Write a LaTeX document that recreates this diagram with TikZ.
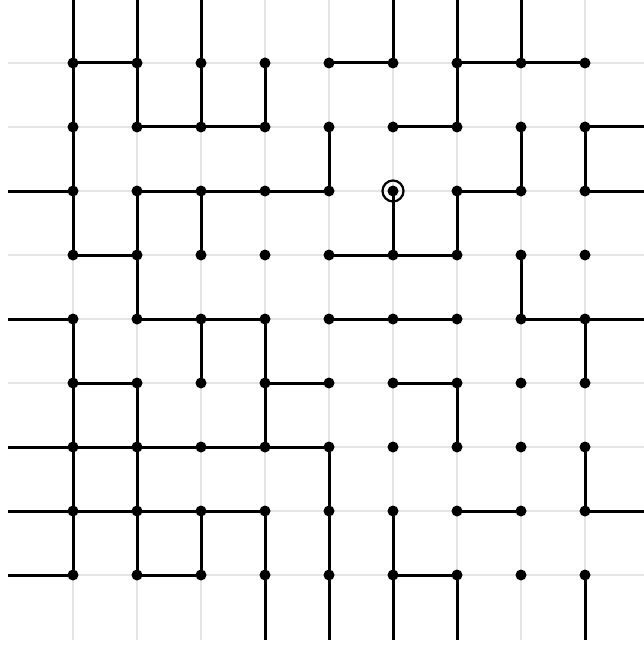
\documentclass[tikz,border=0pt]{standalone}
\begin{document}
\begin{tikzpicture}[x=1pt,y=-1pt,
  gridline/.style={draw=black!10,line width=2.4pt},
  edge/.style={draw=black,line width=3pt},
  dotmark/.style={fill=black},
  ringmark/.style={draw=black,line width=2.2pt}]
\path[use as bounding box,clip] (0,0) rectangle (644,647);
% coordinates of the lattice points
\foreach \i in {0,...,8}{
  \foreach \j in {0,...,8}{
    \coordinate (p-\i-\j) at ({73+64*\i},{63+64*\j});
  }
  \coordinate (t-\i) at ({73+64*\i},-1);
  \coordinate (b-\i) at ({73+64*\i},640);
  \coordinate (l-\i) at (8,{63+64*\i});
  \coordinate (r-\i) at (649,{63+64*\i});
}
% light grid
\foreach \k in {0,...,8}{
  \draw[gridline] (t-\k) -- (b-\k);
  \draw[gridline] (l-\k) -- (r-\k);
}
% horizontal edges (i,j)-(i+1,j)
\foreach \j/\list in {0/{0,4,6,7},1/{1,2,5},2/{1,2,3,6},3/{0,4,5},4/{1,2,4,5,7},5/{0,3,5},6/{0,1,2,3},7/{0,1,2,6},8/{1,5}}{
  \foreach \i in \list{
    \pgfmathtruncatemacro{\ii}{\i+1}
    \draw[edge] (p-\i-\j) -- (p-\ii-\j);
  }
}
% vertical edges (i,j)-(i,j+1)
\foreach \j/\list in {0/{0,1,2,3,6},1/{0,4,7,8},2/{0,1,2,5,6},3/{1,7},4/{0,2,3,8},5/{0,1,3,6},6/{0,1,4,8},7/{0,1,2,3,4,5}}{
  \foreach \i in \list{
    \pgfmathtruncatemacro{\jj}{\j+1}
    \draw[edge] (p-\i-\j) -- (p-\i-\jj);
  }
}
% stubs to the border
\foreach \i in {0,1,2,5,6,7}{\draw[edge] (t-\i) -- (p-\i-0);}
\foreach \i in {3,4,5,6,8}{\draw[edge] (p-\i-8) -- (b-\i);}
\foreach \j in {2,4,6,7,8}{\draw[edge] (l-\j) -- (p-0-\j);}
\foreach \j in {1,2,4,7}{\draw[edge] (p-8-\j) -- (r-\j);}
% dots
\foreach \i in {0,...,8}{
  \foreach \j in {0,...,8}{
    \fill[dotmark] (p-\i-\j) circle (5.5);
  }
}
% marked point
\draw[ringmark] (p-5-2) circle (10.5);
\end{tikzpicture}
\end{document}
